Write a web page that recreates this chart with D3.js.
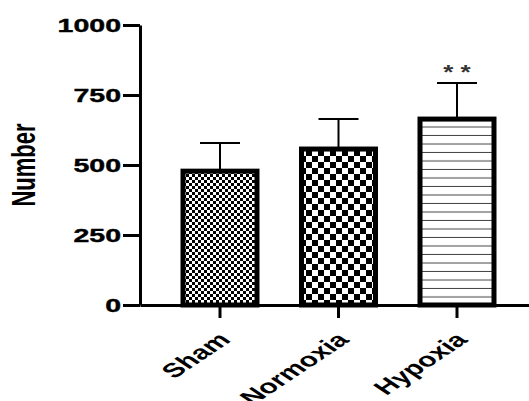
<!DOCTYPE html>
<html><head><meta charset="utf-8">
<script src="https://cdn.jsdelivr.net/npm/d3@7"></script>
<style>body{margin:0;background:#fff}svg{display:block}</style>
</head><body>
<svg id="c" width="529" height="401"></svg>
<script>
const categories = ["Sham", "Normoxia", "Hypoxia"];
const means = [478, 557, 664];
const errors = [101, 107, 129];
const patterns = ["checkSmall", "checkLarge", "hlines"];
const yTicks = [0, 250, 500, 750, 1000];
const annotations = ["", "", "* *"];
const yLabel = "Number";

const svg = d3.select("#c");
const SX = 1.5;
const FONT = "'Liberation Sans', Arial, sans-serif";

const y = d3.scaleLinear().domain([0, 1000]).range([305, 25]);
const x = d3.scaleBand().domain(categories).range([140, 537]).paddingInner(0.3755).paddingOuter(0.3629);

// patterns
const defs = svg.append("defs");
const p1 = defs.append("pattern").attr("id", "checkSmall").attr("patternUnits", "userSpaceOnUse").attr("width", 6).attr("height", 6);
p1.append("rect").attr("width", 6).attr("height", 6).attr("fill", "#fff");
p1.append("rect").attr("width", 3).attr("height", 3).attr("fill", "#000");
p1.append("rect").attr("x", 3).attr("y", 3).attr("width", 3).attr("height", 3).attr("fill", "#000");
const p2 = defs.append("pattern").attr("id", "checkLarge").attr("patternUnits", "userSpaceOnUse").attr("width", 12).attr("height", 12);
p2.append("rect").attr("width", 12).attr("height", 12).attr("fill", "#fff");
p2.append("rect").attr("width", 6).attr("height", 6).attr("fill", "#000");
p2.append("rect").attr("x", 6).attr("y", 6).attr("width", 6).attr("height", 6).attr("fill", "#000");
const p3 = defs.append("pattern").attr("id", "hlines").attr("patternUnits", "userSpaceOnUse").attr("width", 10).attr("height", 8.5);
p3.append("rect").attr("width", 10).attr("height", 8.5).attr("fill", "#fff");
p3.append("rect").attr("y", 7.5).attr("width", 10).attr("height", 1.2).attr("fill", "#444");

// error bars
const eb = svg.append("g").attr("stroke", "#000").attr("stroke-width", 2);
categories.forEach((c, i) => {
  const cx = x(c) + x.bandwidth() / 2;
  eb.append("line").attr("x1", cx).attr("x2", cx).attr("y1", y(means[i])).attr("y2", y(means[i] + errors[i]));
  eb.append("line").attr("x1", cx - 20).attr("x2", cx + 20).attr("y1", y(means[i] + errors[i])).attr("y2", y(means[i] + errors[i]));
});

// bars
svg.append("g").selectAll("rect").data(categories).join("rect")
  .attr("x", d => x(d))
  .attr("y", (d, i) => y(means[i]))
  .attr("width", x.bandwidth())
  .attr("height", (d, i) => y(0) - y(means[i]))
  .attr("fill", (d, i) => `url(#${patterns[i]})`)
  .attr("stroke", "#000").attr("stroke-width", 5);

// annotations
categories.forEach((c, i) => {
  if (!annotations[i]) return;
  const cx = x(c) + x.bandwidth() / 2;
  svg.append("text").attr("x", cx).attr("y", y(means[i] + errors[i]) - 4)
    .attr("text-anchor", "middle").attr("font-family", FONT).attr("font-size", 20).attr("font-weight", "bold")
    .attr("fill", "#333").attr("transform", `translate(${cx},0) scale(1.3,1) translate(${-cx},0)`)
    .text(annotations[i]);
});

// y axis
const ya = svg.append("g").attr("transform", "translate(140,0)")
  .call(d3.axisLeft(y).tickValues(yTicks).tickFormat(d3.format("d")).tickSize(17).tickSizeOuter(0).tickPadding(0));
ya.select(".domain").attr("stroke-width", 3).attr("stroke", "#000");
ya.selectAll(".tick line").attr("stroke-width", 3).attr("stroke", "#000");
ya.selectAll(".tick text").attr("font-family", FONT).attr("font-size", 19).attr("font-weight", "bold")
  .attr("fill", "#000").attr("stroke", "#000").attr("stroke-width", 0.4)
  .attr("x", -19 / SX).attr("dy", "0.36em").attr("transform", `scale(${SX},1)`);

// x axis
const xa = svg.append("g").attr("transform", "translate(0,305)")
  .call(d3.axisBottom(x).tickSize(13).tickSizeOuter(0).tickFormat(""));
xa.select(".domain").attr("stroke-width", 3).attr("stroke", "#000");
xa.selectAll(".tick line").attr("stroke-width", 3).attr("stroke", "#000");
xa.selectAll(".tick").append("text")
  .attr("font-family", FONT).attr("font-size", 20).attr("font-weight", "bold").attr("fill", "#000")
  .attr("text-anchor", "end")
  .attr("transform", `translate(-3,26) scale(${SX},1) rotate(-45)`)
  .attr("dy", "0.7em")
  .text(d => d);

// y label
svg.append("text").attr("font-family", FONT).attr("font-size", 22).attr("font-weight", "bold").attr("fill", "#000")
  .attr("text-anchor", "middle")
  .attr("transform", `translate(35,165) scale(${SX},1) rotate(-90)`)
  .text(yLabel);
</script>
</body></html>
